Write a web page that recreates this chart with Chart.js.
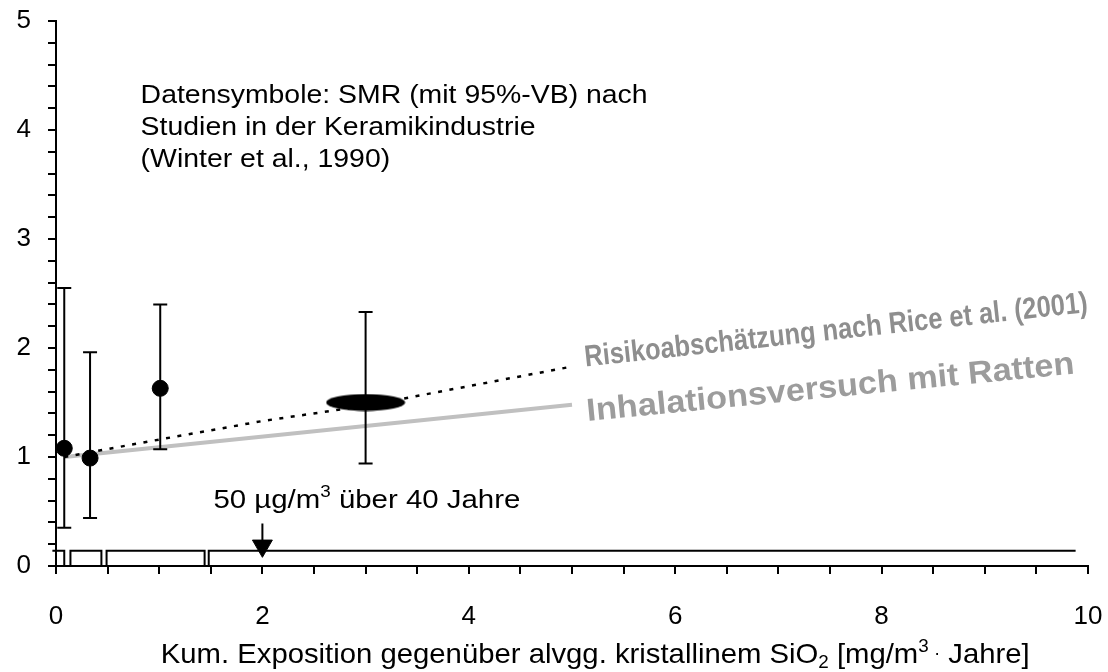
<!DOCTYPE html>
<html lang="de">
<head>
<meta charset="UTF-8">
<title>SMR und kumulative SiO2-Exposition</title>
<script src="https://cdn.jsdelivr.net/npm/chart.js"></script>
<style>
  body { margin: 0; background: #fff; }
</style>
</head>
<body>
<canvas id="smrChart" width="1108" height="672"></canvas>
<script>
// SMR mit 95%-VB (Winter et al., 1990)
const smrX = [0.08, 0.33, 1.01, 3.0];
const smrY = [1.08, 0.99, 1.63, 1.50];
const smrLow = [0.35, 0.44, 1.07, 0.94];
const smrHigh = [2.55, 1.96, 2.40, 2.33];

// Risikoabschaetzung nach Rice et al. (2001) - gepunktet
const riceX = [0.08, 1, 2, 3, 4, 5];
const riceY = [1.00, 1.16, 1.33, 1.47, 1.65, 1.83];

// Inhalationsversuch mit Ratten - grau
const ratX = [0.08, 5.0];
const ratY = [1.00, 1.48];

// Expositionsklassen unten an der Achse
const classFrom = [-0.035, 0.14, 0.49, 1.48];
const classTo = [0.08, 0.44, 1.44, 9.88];
const classTop = 0.14;

// 50 ug/m3 ueber 40 Jahre = 2 mg/m3 * Jahre
const markX = 2;
const markArrow = [0.39, 0.185];

const xLabels = [0, 2, 4, 6, 8, 10];
const yLabels = [0, 1, 2, 3, 4, 5];

const FONT = '"Liberation Sans", Arial, sans-serif';

// ellipse marker for the large study
const ellipse = document.createElement('canvas');
ellipse.width = 80;
ellipse.height = 18;
{
    const e = ellipse.getContext('2d');
    e.fillStyle = '#000';
    e.beginPath();
    e.ellipse(40, 9, 39.5, 8.5, 0, 0, Math.PI * 2);
    e.fill();
}

const pts = (xs, ys) => xs.map((x, i) => ({ x: x, y: ys[i] }));

const boxSets = classFrom.map((x0, i) => {
    const x1 = classTo[i];
    const last = i === classFrom.length - 1;
    const d = [{ x: x0, y: 0 }, { x: x0, y: classTop }, { x: x1, y: classTop }];
    if (!last) d.push({ x: x1, y: 0 });
    return {
        data: d, showLine: true, borderColor: '#000', borderWidth: 2,
        pointRadius: 0, clip: false, order: 5
    };
});

const errorBars = {
    id: 'errorBars',
    afterDatasetsDraw(chart) {
        const ctx = chart.ctx, xs = chart.scales.x, ys = chart.scales.y;
        ctx.save();
        ctx.strokeStyle = '#000';
        ctx.lineWidth = 2;
        smrX.forEach((x, i) => {
            const px = xs.getPixelForValue(x);
            const top = ys.getPixelForValue(smrHigh[i]);
            const bot = ys.getPixelForValue(smrLow[i]);
            ctx.beginPath();
            ctx.moveTo(px, top); ctx.lineTo(px, bot);
            ctx.moveTo(px - 7, top); ctx.lineTo(px + 7, top);
            ctx.moveTo(px - 7, bot); ctx.lineTo(px + 7, bot);
            ctx.stroke();
        });
        ctx.restore();
    }
};

function rich(ctx, x, y, parts, base, width) {
    ctx.save();
    let total = 0;
    parts.forEach(p => {
        ctx.font = (p.size || base) + 'px ' + FONT;
        total += ctx.measureText(p.t).width;
    });
    const sx = width ? width / total : 1;
    ctx.translate(x, y);
    ctx.scale(sx, 1);
    let cx = 0;
    parts.forEach(p => {
        ctx.font = (p.size || base) + 'px ' + FONT;
        ctx.fillText(p.t, cx, p.dy || 0);
        cx += ctx.measureText(p.t).width;
    });
    ctx.restore();
}

function slanted(ctx, text, x, y, angle, font, color, width) {
    ctx.save();
    ctx.font = font;
    const w = ctx.measureText(text).width;
    ctx.translate(x, y);
    ctx.rotate(angle);
    ctx.scale(width / w, 1);
    ctx.fillStyle = color;
    ctx.fillText(text, 0, 0);
    ctx.restore();
}

const notes = {
    id: 'notes',
    afterDraw(chart) {
        const ctx = chart.ctx, xs = chart.scales.x, ys = chart.scales.y;
        ctx.save();
        ctx.fillStyle = '#000';
        ctx.textBaseline = 'alphabetic';
        ctx.textAlign = 'left';

        // info block
        const ix = xs.getPixelForValue(0.82), iy = ys.getPixelForValue(4.245);
        ctx.font = '26px ' + FONT;
        const info = ['Datensymbole: SMR (mit 95%-VB) nach',
                      'Studien in der Keramikindustrie',
                      '(Winter et al., 1990)'];
        const sx = 507 / ctx.measureText(info[0]).width;
        info.forEach((line, i) => {
            rich(ctx, ix, iy + i * 32, [{ t: line }], 26, ctx.measureText(line).width * sx);
        });

        // 50 ug/m3 label
        rich(ctx, xs.getPixelForValue(1.525), ys.getPixelForValue(0.53), [
            { t: '50 µg/m' }, { t: '3', size: 16, dy: -11 }, { t: ' über 40 Jahre' }
        ], 25, 307);

        // axis title
        rich(ctx, xs.getPixelForValue(1.015), 663, [
            { t: 'Kum. Exposition gegenüber alvgg. kristallinem SiO' },
            { t: '2', size: 18, dy: 5 },
            { t: ' [mg/m' },
            { t: '3', size: 18, dy: -11 },
            { t: ' ', size: 18 },
            { t: '·', size: 18, dy: -4 },
            { t: ' Jahre]' }
        ], 28, 869);

        slanted(ctx, 'Risikoabschätzung nach Rice et al. (2001)',
            xs.getPixelForValue(5.13), ys.getPixelForValue(1.83),
            -0.108, 'bold 30px ' + FONT, '#8e8e8e', 506);
        slanted(ctx, 'Inhalationsversuch mit Ratten',
            xs.getPixelForValue(5.15), ys.getPixelForValue(1.33),
            -0.097, 'bold 32px ' + FONT, '#9c9c9c', 490);
        ctx.restore();
    }
};

new Chart(document.getElementById('smrChart'), {
    type: 'scatter',
    data: {
        datasets: [
            {
                data: pts(smrX, smrY),
                pointStyle: ['circle', 'circle', 'circle', ellipse],
                pointRadius: 8,
                backgroundColor: '#000',
                borderColor: '#000',
                borderWidth: 1,
                order: 0
            },
            {
                data: pts(riceX, riceY), showLine: true,
                borderColor: '#000', borderWidth: 2.5, borderDash: [4, 7.5],
                pointRadius: 0, order: 2
            },
            {
                data: pts(ratX, ratY), showLine: true,
                borderColor: '#c0c0c0', borderWidth: 4,
                pointRadius: 0, order: 3
            },
            {
                data: [{ x: markX, y: markArrow[0] }, { x: markX, y: markArrow[1] }],
                showLine: true, borderColor: '#000', borderWidth: 2,
                pointRadius: 0, order: 1
            },
            {
                data: [{ x: markX, y: markArrow[1] }],
                pointStyle: 'triangle', rotation: 180, pointRadius: 11.5,
                backgroundColor: '#000', borderColor: '#000', borderWidth: 1,
                order: 1
            },
            ...boxSets
        ]
    },
    options: {
        responsive: false,
        animation: false,
        events: [],
        layout: { padding: { top: 21, right: 20, left: 0, bottom: 0 } },
        plugins: { legend: { display: false }, tooltip: { enabled: false } },
        scales: {
            x: {
                type: 'linear', min: 0, max: 10,
                afterFit: s => { s.height = 106; s.paddingLeft = 0; s.paddingRight = 0; },
                border: { display: true, color: '#000', width: 2 },
                grid: { drawOnChartArea: false, drawTicks: true, tickLength: 8, color: '#000', lineWidth: 2 },
                ticks: {
                    stepSize: 0.5, autoSkip: false, maxRotation: 0,
                    padding: 27, color: '#000',
                    font: { family: FONT, size: 26 },
                    callback: v => xLabels.includes(v) ? String(v) : ''
                }
            },
            y: {
                type: 'linear', min: 0, max: 5,
                afterFit: s => { s.width = 56; s.paddingTop = 0; s.paddingBottom = 0; },
                border: { display: true, color: '#000', width: 2 },
                grid: { drawOnChartArea: false, drawTicks: true, tickLength: 8, color: '#000', lineWidth: 2 },
                ticks: {
                    stepSize: 0.2, autoSkip: false,
                    padding: 17, color: '#000',
                    font: { family: FONT, size: 26 },
                    callback: v => {
                        const r = Math.round(v);
                        return Math.abs(v - r) < 1e-6 && yLabels.includes(r) ? String(r) : '';
                    }
                }
            }
        }
    },
    plugins: [errorBars, notes]
});
</script>
</body>
</html>
